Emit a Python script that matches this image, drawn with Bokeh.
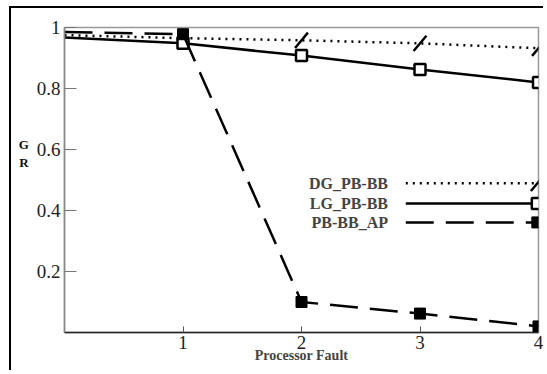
import math
from bokeh.plotting import figure
from bokeh.models import Range1d, FixedTicker, Label
from bokeh.embed import file_html
from bokeh.resources import INLINE

# ---- data ----
faults = [0, 1, 2, 3, 4]
dg_pb_bb = [0.975, 0.965, 0.958, 0.948, 0.932]
lg_pb_bb = [0.967, 0.948, 0.908, 0.862, 0.820]
pb_bb_ap = [0.985, 0.978, 0.100, 0.062, 0.020]
series_names = ["DG_PB-BB", "LG_PB-BB", "PB-BB_AP"]
x_ticks = [1, 2, 3, 4]
y_ticks = [0.2, 0.4, 0.6, 0.8, 1.0]

# legend placement (data coords of the custom key)
leg_y = [0.489, 0.423, 0.361]
leg_x0, leg_x1, leg_tx = 2.88, 3.99, 2.73

SERIF = "Liberation Serif"

p = figure(width=534, height=364, output_backend="svg", toolbar_location=None,
           x_range=Range1d(0, 4), y_range=Range1d(0, 1.0),
           min_border_left=53, min_border_top=19, min_border_right=7, min_border_bottom=40)
p.styles = {"margin-left": "9px", "margin-top": "6px",
            "border-top": "2px solid black", "border-left": "2px solid black"}
p.grid.visible = False
p.outline_line_color = "#999999"
p.outline_line_width = 1.5

for ax in (p.xaxis[0], p.yaxis[0]):
    ax.major_label_text_font = SERIF
    ax.major_label_text_font_size = "19px"
    ax.major_label_text_color = "#222222"
    ax.minor_tick_line_color = None
    ax.major_tick_out = 0
    ax.major_label_standoff = 4

p.xaxis.ticker = FixedTicker(ticks=x_ticks)
p.xaxis.axis_line_color = "#222222"
p.xaxis.axis_line_width = 1.5
p.xaxis.major_tick_in = 6
p.xaxis.major_tick_line_color = "#555555"
p.xaxis.major_label_standoff = 3
p.xaxis.axis_label = "Processor Fault"
p.xaxis.axis_label_text_font = SERIF
p.xaxis.axis_label_text_font_style = "bold"
p.xaxis.axis_label_text_font_size = "14px"
p.xaxis.axis_label_standoff = -4

p.yaxis.ticker = FixedTicker(ticks=y_ticks)
p.yaxis.major_label_overrides = {1.0: "1"}
p.yaxis.axis_line_color = "#888888"
p.yaxis.axis_line_width = 1.5
p.yaxis.major_tick_in = 12
p.yaxis.major_tick_line_color = "#777777"
# stacked "G / R" label, padded with blank lines to sit level with the 0.6 tick
p.yaxis.axis_label = "G\nR\n \n \n "
p.yaxis.axis_label_orientation = "horizontal"
p.yaxis.axis_label_text_font = SERIF
p.yaxis.axis_label_text_font_style = "bold"
p.yaxis.axis_label_text_font_size = "13px"
p.yaxis.axis_label_text_color = "#111111"
p.yaxis.axis_label_standoff = 5

# series
p.line(faults, dg_pb_bb, line_color="black", line_width=2.5, line_dash="2 5")
p.scatter(faults[2:], dg_pb_bb[2:], marker="dash", size=20, angle=math.radians(50),
          line_color="black", line_width=2.5)

p.line(faults, lg_pb_bb, line_color="black", line_width=2.5)
p.scatter(faults[1:], lg_pb_bb[1:], marker="square", size=11, fill_color="white",
          line_color="black", line_width=2.5)

p.line(faults, pb_bb_ap, line_color="black", line_width=2.5, line_dash="28 12")
p.scatter(faults[1:], pb_bb_ap[1:], marker="square", size=11, fill_color="black",
          line_color="black")

# custom legend key
dashes = ["2 5", "solid", "28 12"]
for i, name in enumerate(series_names):
    p.line([leg_x0, leg_x1], [leg_y[i], leg_y[i]], line_color="black", line_width=2.5,
           line_dash=dashes[i])
    p.add_layout(Label(x=leg_tx, y=leg_y[i], text=name, text_font=SERIF,
                       text_font_style="bold", text_font_size="16px",
                       text_align="right", text_baseline="middle"))
p.scatter([leg_x1], [leg_y[0]], marker="dash", size=20, angle=math.radians(50),
          line_color="black", line_width=2.5)
p.scatter([leg_x1], [leg_y[1]], marker="square", size=11, fill_color="white",
          line_color="black", line_width=2.5)
p.scatter([leg_x1], [leg_y[2]], marker="square", size=11, fill_color="black",
          line_color="black")

open("out.html", "w").write(file_html(p, INLINE))
